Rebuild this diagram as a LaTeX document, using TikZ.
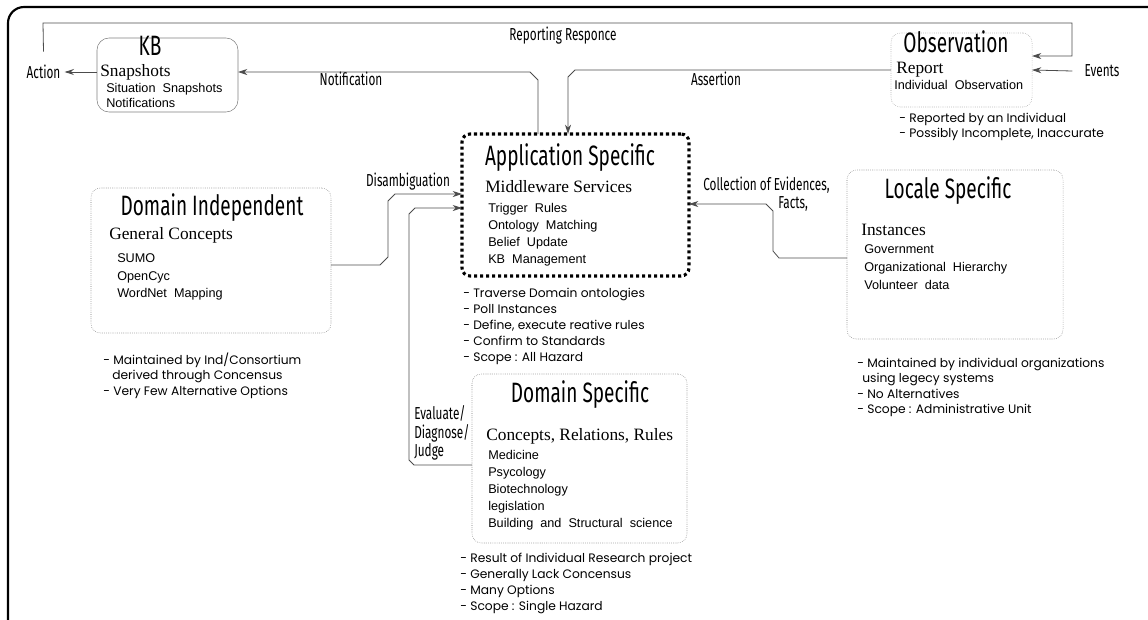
\documentclass[tikz,border=0pt]{standalone}
\usepackage{fontspec}
\setmainfont{Liberation Sans}
\newfontfamily\headfont[FakeStretch=0.68]{Fira Sans}
\newfontfamily\subfont{Liberation Serif}
\newfontfamily\notefont{Poppins}
\usepackage{tikz}
\usetikzlibrary{arrows.meta, positioning, shapes}
\tikzstyle{box} = [rectangle, rounded corners=7pt, draw=black!55, densely dotted, inner sep=0pt, outer sep=0pt]
\tikzstyle{kbbox} = [rectangle, rounded corners=9pt, draw=black!50, inner sep=0pt, outer sep=0pt]
\tikzstyle{appbox} = [rectangle, rounded corners=6pt, draw=black, line width=2.3pt, dash pattern=on 2.3pt off 2.2pt, inner sep=0pt, outer sep=0pt]
\tikzstyle{headtext} = [inner sep=0pt, anchor=base, font=\headfont\fontsize{21}{22}\selectfont]
\tikzstyle{subtext} = [inner sep=0pt, anchor=base west, font=\subfont\fontsize{13}{15}\selectfont]
\tikzstyle{itemtext} = [inner sep=0pt, anchor=base west, font=\fontsize{9.5}{11}\selectfont]
\tikzstyle{notetext} = [inner sep=0pt, anchor=base west, font=\notefont\fontsize{9.2}{10}\selectfont]
\tikzstyle{flowtext} = [inner sep=0pt, anchor=base, font=\headfont\fontsize{13}{14}\selectfont]
\tikzstyle{arrow} = [line width=0.6pt, draw=black!70, -{Stealth[length=7pt, width=4.5pt]}]

\begin{document}
\begin{tikzpicture}[x=0.75pt, y=-0.75pt]
\useasboundingbox (0,0) rectangle (1148,619);
% outer frame, only its top and left edges are on the page
\draw[line width=1.6pt, rounded corners=12pt] (8,660) -- (8,7) -- (1180,7);

% boxes
\node (kb) [kbbox, minimum width=105.75pt, minimum height=55.5pt] at (167.5,75) {};
\node (obs) [box, draw=black!40, minimum width=105.75pt, minimum height=55.5pt] at (961.5,70) {};
\node (app) [appbox, minimum width=170.25pt, minimum height=106.5pt] at (575.5,205) {};
\node (domind) [box, minimum width=180pt, minimum height=108.75pt] at (211,260.5) {};
\node (locale) [box, minimum width=162pt, minimum height=126.75pt] at (955,254.5) {};
\node (domspec) [box, minimum width=161.25pt, minimum height=126.75pt] at (579.5,458.5) {};

% KB
\node (kbhead) [headtext] at (150,55) {KB};
\node (kbsub) [subtext] at (100,76) {Snapshots};
\node (kb-1) [itemtext] at (106,92) {Situation~ Snapshots};
\node (kb-2) [itemtext] at (106,107) {Notifications};

% Observation
\node (obshead) [headtext] at (956,52) {Observation};
\node (obssub) [subtext] at (896,73) {Report};
\node (obs-1) [itemtext] at (894,89) {Individual~ Observation};
\node (obsn-1) [notetext] at (899,122) {- Reported by an Individual};
\node (obsn-2) [notetext] at (899,137) {- Possibly Incomplete, Inaccurate};

% Application Specific
\node (apphead) [headtext] at (570,165) {Application Specific};
\node (appsub) [subtext] at (485,192) {Middleware Services};
\foreach \t [count=\i] in {Trigger~ Rules, Ontology~ Matching, Belief~ Update, KB~ Management}
  \node (app-\i) [itemtext] at (488,195+17*\i) {\t};
\foreach \t [count=\i] in {- Traverse Domain ontologies, - Poll Instances, {- Define, execute reative rules}, - Confirm to Standards, - Scope : All Hazard}
  \node (appn-\i) [notetext] at (463,281+16*\i) {\t};

% Domain Independent
\node (dihead) [headtext] at (212,215) {Domain Independent};
\node (disub) [subtext] at (109,239) {General Concepts};
\foreach \t [count=\i] in {SUMO, OpenCyc, WordNet~ Mapping}
  \node (di-\i) [itemtext] at (117,245+17.5*\i) {\t};
\node (din-1) [notetext] at (103,364) {- Maintained by Ind/Consortium};
\node (din-2) [notetext] at (112,379) {derived through Concensus};
\node (din-3) [notetext] at (103,395) {- Very Few Alternative Options};

% Locale Specific
\node (lshead) [headtext] at (948,198) {Locale Specific};
\node (lssub) [subtext] at (861,235) {Instances};
\foreach \t [count=\i] in {Government, Organizational~ Hierarchy, Volunteer~ data}
  \node (ls-\i) [itemtext] at (864,235+18*\i) {\t};
\node (lsn-1) [notetext] at (857,367) {- Maintained by individual organizations};
\node (lsn-2) [notetext] at (862,382) {using legecy systems};
\node (lsn-3) [notetext] at (857,398) {- No Alternatives};
\node (lsn-4) [notetext] at (857,413) {- Scope : Administrative Unit};

% Domain Specific
\node (dshead) [headtext] at (580,402) {Domain Specific};
\node (dssub) [subtext] at (486,440) {Concepts, Relations, Rules};
\foreach \t [count=\i] in {Medicine, Psycology, Biotechnology, legislation, Building~ and~ Structural~ science}
  \node (ds-\i) [itemtext] at (488,442+17*\i) {\t};
\foreach \t [count=\i] in {- Result of Individual Research project, - Generally Lack Concensus, - Many Options, - Scope : Single Hazard}
  \node (dsn-\i) [notetext] at (460,546+16*\i) {\t};

% flow labels
\node (action) [flowtext, anchor=center, inner sep=3pt] at (43.5,72) {Action};
\node (events) [flowtext, anchor=center, inner sep=3pt] at (1102,71) {Events};
\node (report) [flowtext] at (563,40) {Reporting Responce};
\node (notif) [flowtext] at (351,85) {Notification};
\node (assert) [flowtext] at (716,85) {Assertion};
\node (disamb) [flowtext] at (408,186) {Disambiguation};
\foreach \t [count=\i] in {Evaluate/, Diagnose/, Judge}
  \node (eval-\i) [flowtext, anchor=base west] at (414,401+18.5*\i) {\t};
\node (coll-1) [flowtext, anchor=base west] at (703,190) {Collection of Evidences,};
\node (coll-2) [flowtext, anchor=base west] at (778,208) {Facts,};

% connectors
\coordinate (rr) at (1072,56);
\draw[arrow] ([yshift=7pt]action.north) -- (43,23) -| (rr) -- (obs.east |- rr);
\draw[arrow] ([xshift=-6pt]events.west) -- (obs.east);
\draw[arrow] (kb.west |- action) -- (action.east);

\coordinate (nt) at (538,80);
\coordinate (nt2) at (530,72);
\draw[arrow] (app.north -| nt) -- (nt) -- (nt2) -- (kb.east |- nt2);

\coordinate (as) at (575,70);
\coordinate (as2) at (568,77);
\draw[arrow] (obs.west |- as) -- (as) -- (as2) -- (app.north -| as2);

\coordinate (da) at (380,265);
\coordinate (da2) at (395,194);
\draw[arrow] (domind.east |- da) -- (da) -- (388,257) -- (388,201) -- (da2) -- (app.west |- da2);

\coordinate (ev) at (414,465);
\coordinate (ev2) at (415,208);
\draw[arrow] (domspec.west |- ev) -- (ev) -- (409,460) -- (409,214) -- (ev2) -- (app.west |- ev2);

\coordinate (cf) at (779,258);
\coordinate (cf2) at (766,204);
\draw[arrow] (locale.west |- cf) -- (cf) -- (773,251) -- (773,211) -- (cf2) -- (app.east |- cf2);
\end{tikzpicture}
\end{document}
